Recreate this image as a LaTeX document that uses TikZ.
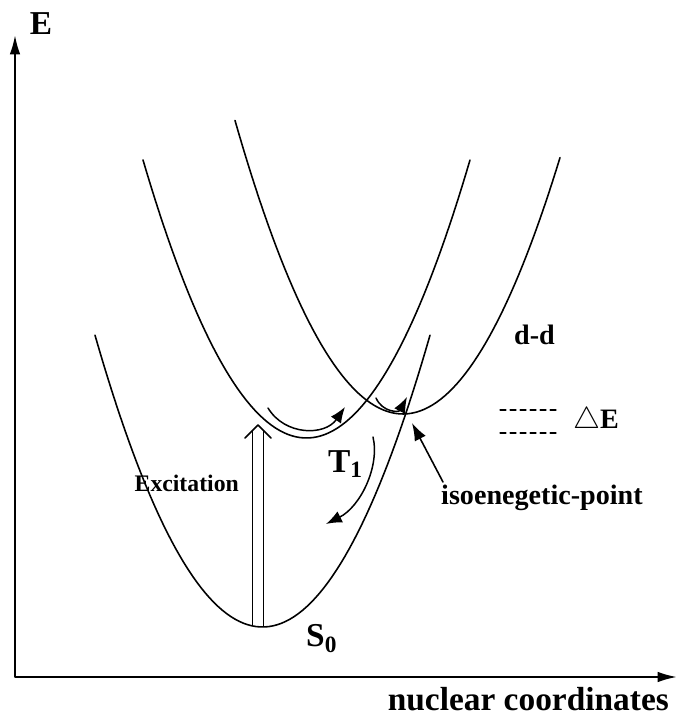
\documentclass[tikz,border=0pt]{standalone}
\usepackage{fontspec}
\setmainfont{Liberation Serif}
\usetikzlibrary{arrows.meta}

\begin{document}
\begin{tikzpicture}[line cap=round,line join=round,
  curve/.style={line width=0.9pt},
  bigtxt/.style={font=\fontsize{19}{22}\selectfont\bfseries},
  midtxt/.style={font=\fontsize{16}{19}\selectfont\bfseries},
  smalltxt/.style={font=\fontsize{13.5}{16}\selectfont\bfseries},
  turn/.style={line width=0.85pt,-{Latex[length=9pt,width=7pt]}}]
  \useasboundingbox (0,0) rectangle (13.56,14.44);
  % axes
  \coordinate (ytop) at (0.30,13.74);
  \coordinate (orig) at (0.30,0.90);
  \coordinate (xend) at (13.54,0.90);
  \draw[line width=1.2pt,{Latex[length=11pt,width=6pt]}-{Latex[length=11pt,width=6pt]}]
    (ytop) -- (orig) -- (xend);
  \node[bigtxt,anchor=center] (elbl) at (0.82,13.96) {E};
  \node[bigtxt,anchor=base east] (xlbl) at (13.50,0.24) {nuclear coordinates};
  % vertical excitation (hollow arrow)
  \coordinate (exl) at (5.05,1.92);
  \coordinate (exr) at (5.27,1.92);
  \coordinate (exlt) at (5.05,5.83);
  \coordinate (exrt) at (5.27,5.83);
  \coordinate (exctop) at (5.16,5.94);
  \draw[line width=0.85pt,line cap=butt] (exl) -- (exlt) (exr) -- (exrt);
  \draw[line width=0.85pt] (4.90,5.68) -- (exctop) -- (5.42,5.68);
  \node[smalltxt,anchor=base east] (exc) at (4.90,4.60) {Excitation};
  % potential curves
  \draw[curve,domain=1.90:8.60,samples=80] plot (\x,{1.90+0.52*(\x-5.25)^2});
  \draw[curve,domain=2.86:9.40,samples=80] plot (\x,{5.68+0.52*(\x-6.13)^2});
  \draw[curve,domain=4.70:11.20,samples=80] plot (\x,{6.16+0.52*(\x-8.06)^2});
  \node[bigtxt,anchor=base west] (s0) at (6.00,1.50) {S\textsubscript{0}};
  \node[bigtxt,anchor=base west] (t1) at (6.44,4.98) {T\textsubscript{1}};
  \node[midtxt,anchor=base west] (dd) at (10.16,7.54) {d-d};
  % relaxation arrows
  \coordinate (a1) at (5.36,6.28);
  \coordinate (a2) at (6.90,6.30);
  \draw[turn] (a1) .. controls (5.70,5.72) and (6.50,5.72) .. (a2);
  \coordinate (b1) at (7.52,6.48);
  \coordinate (b2) at (8.14,6.50);
  \draw[turn] (b1) .. controls (7.65,6.19) and (7.98,6.19) .. (b2);
  \coordinate (c1) at (7.46,5.70);
  \coordinate (c2) at (6.52,3.96);
  \draw[turn] (c1) .. controls (7.60,5.10) and (7.20,4.30) .. (c2);
  % crossing point
  \coordinate (iso) at (8.24,5.98);
  \coordinate (isotail) at (8.86,4.80);
  \draw[line width=0.9pt,-{Latex[length=10pt,width=7pt]}] (isotail) -- (iso);
  \node[midtxt,anchor=base west] (isolbl) at (8.70,4.34) {isoenegetic-point};
  % energy gap
  \coordinate (g1) at (10.00,6.24);
  \coordinate (g2) at (11.20,6.24);
  \coordinate (g3) at (10.00,5.78);
  \coordinate (g4) at (11.20,5.78);
  \draw[line width=0.6pt,dash pattern=on 3.4pt off 2.3pt] (g1) -- (g2) (g3) -- (g4);
  \node[midtxt,anchor=base west] (gap) at (11.34,5.86) {$\triangle$E};
\end{tikzpicture}
\end{document}
